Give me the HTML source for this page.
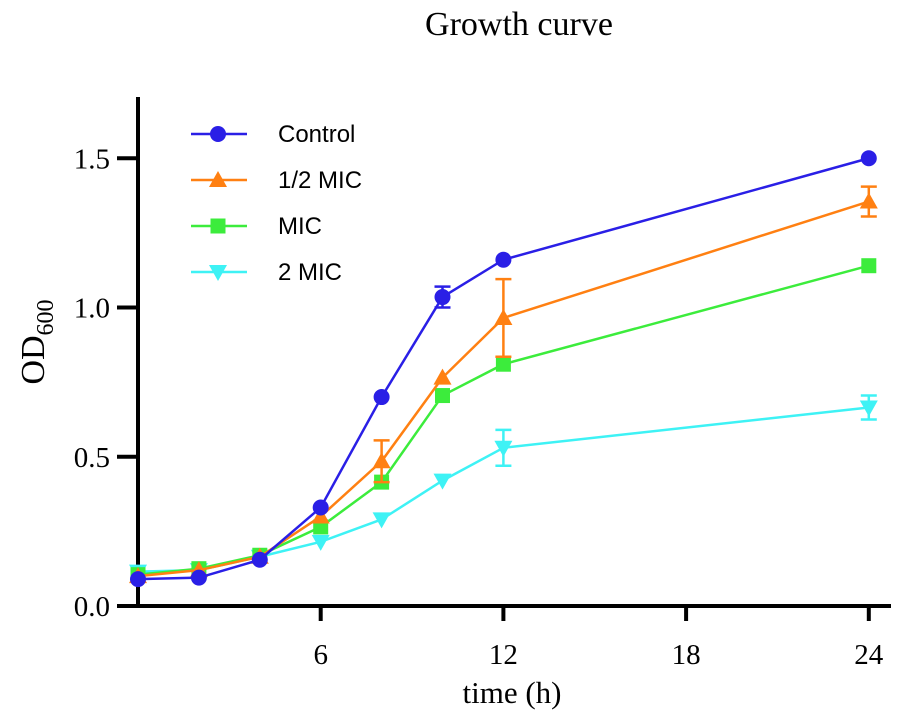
<!DOCTYPE html>
<html><head><meta charset="utf-8"><style>
body{margin:0;background:#fff;width:901px;height:725px;overflow:hidden}
svg{display:block}
.t{font-family:"Liberation Serif",serif;fill:#000}
.s{font-family:"Liberation Sans",sans-serif;fill:#000}
</style></head><body>
<svg id="chart" width="901" height="725" viewBox="0 0 901 725">
<text class="t" x="519" y="35" font-size="34" text-anchor="middle">Growth curve</text>
<g id="axes"></g>
<g id="series"></g>
<g id="legend"></g>
<text class="t" x="512" y="703" font-size="31" text-anchor="middle">time (h)</text>
<text class="t" transform="translate(44,342) rotate(-90)" font-size="34" text-anchor="middle">OD<tspan font-size="24" dy="9">600</tspan></text>
</svg>
<script>
const times=[0,2,4,6,8,10,12,24];
const seriesNames=["Control","1/2 MIC","MIC","2 MIC"];
const controlVals=[0.09,0.095,0.155,0.33,0.70,1.035,1.16,1.50];
const halfMicVals=[0.10,0.12,0.165,0.30,0.485,0.765,0.965,1.355];
const micVals=[0.105,0.125,0.17,0.265,0.415,0.705,0.81,1.14];
const twoMicVals=[0.115,0.12,0.165,0.215,0.29,0.42,0.53,0.665];
const controlErr=[0,0,0,0,0,0.035,0,0];
const halfMicErr=[0,0,0,0,0.07,0,0.13,0.05];
const micErr=[0,0,0,0,0,0,0,0];
const twoMicErr=[0,0,0,0,0,0,0.06,0.04];
const xTicks=[6,12,18,24];
const yTicks=[0,0.5,1.0,1.5];
const yTickLabels=["0.0","0.5","1.0","1.5"];

const NS="http://www.w3.org/2000/svg";
const X=t=>138+t*30.45;
const Y=v=>606-v*298.5;
function mk(tag,attrs,parent){const e=document.createElementNS(NS,tag);for(const k in attrs)e.setAttribute(k,attrs[k]);parent.appendChild(e);return e;}
const axes=document.getElementById('axes');
let e=mk('line',{x1:138,y1:97,x2:138,y2:608,stroke:'#000','stroke-width':4},axes);

e=mk('line',{x1:117,y1:606,x2:891,y2:606,stroke:'#000','stroke-width':4},axes);

yTicks.forEach((v,i)=>{
 let l=mk('line',{x1:117,y1:Y(v),x2:138,y2:Y(v),stroke:'#000','stroke-width':4},axes);
 
 let t=mk('text',{x:110,y:Y(v)+10,'font-size':29,'text-anchor':'end',class:'t'},axes);t.textContent=yTickLabels[i];
 
});
xTicks.forEach(v=>{
 let l=mk('line',{x1:X(v),y1:606,x2:X(v),y2:621,stroke:'#000','stroke-width':4},axes);
 
 let t=mk('text',{x:X(v),y:664,'font-size':29,'text-anchor':'middle',class:'t'},axes);t.textContent=v;
 
});
const colors=["#2a1fe6","#ff8012","#3cec3c","#3ef2f5"];
const shapes=["circle","up","square","down"];
const vals=[controlVals,halfMicVals,micVals,twoMicVals];
const errs=[controlErr,halfMicErr,micErr,twoMicErr];
function marker(shape,x,y,c,p){
 if(shape==="circle")return mk('circle',{cx:x,cy:y,r:8,fill:c},p);
 if(shape==="square")return mk('rect',{x:x-7.5,y:y-7.5,width:15,height:15,fill:c},p);
 if(shape==="up")return mk('polygon',{points:`${x},${y-9} ${x-9},${y+7} ${x+9},${y+7}`,fill:c},p);
 return mk('polygon',{points:`${x},${y+9} ${x-9},${y-7} ${x+9},${y-7}`,fill:c},p);
}
const sg=document.getElementById('series');
[3,2,1,0].forEach(si=>{
 const g=mk('g',{},sg);
 
 
 const c=colors[si];
 mk('polyline',{points:times.map((t,i)=>X(t)+','+Y(vals[si][i])).join(' '),fill:'none',stroke:c,'stroke-width':2.5},g);
 times.forEach((t,i)=>{
  const er=errs[si][i];
  if(er>0){
   const x=X(t),y1=Y(vals[si][i]+er),y2=Y(vals[si][i]-er);
   mk('line',{x1:x,y1:y1,x2:x,y2:y2,stroke:c,'stroke-width':2.5},g);
   mk('line',{x1:x-8,y1:y1,x2:x+8,y2:y1,stroke:c,'stroke-width':2.5},g);
   mk('line',{x1:x-8,y1:y2,x2:x+8,y2:y2,stroke:c,'stroke-width':2.5},g);
  }
  const m=marker(shapes[si],X(t),Y(vals[si][i]),c,g);
  
  
 });
});
const lg=document.getElementById('legend');
const ly=[134,180,226,272];
seriesNames.forEach((n,i)=>{
 const g=mk('g',{},lg);
 
 
 mk('line',{x1:191,y1:ly[i],x2:247,y2:ly[i],stroke:colors[i],'stroke-width':2.5},g);
 marker(shapes[i],218,ly[i],colors[i],g);
 const t=mk('text',{x:278,y:ly[i]+8,'font-size':24,class:'s'},g);t.textContent=n;
});
</script>
</body></html>
